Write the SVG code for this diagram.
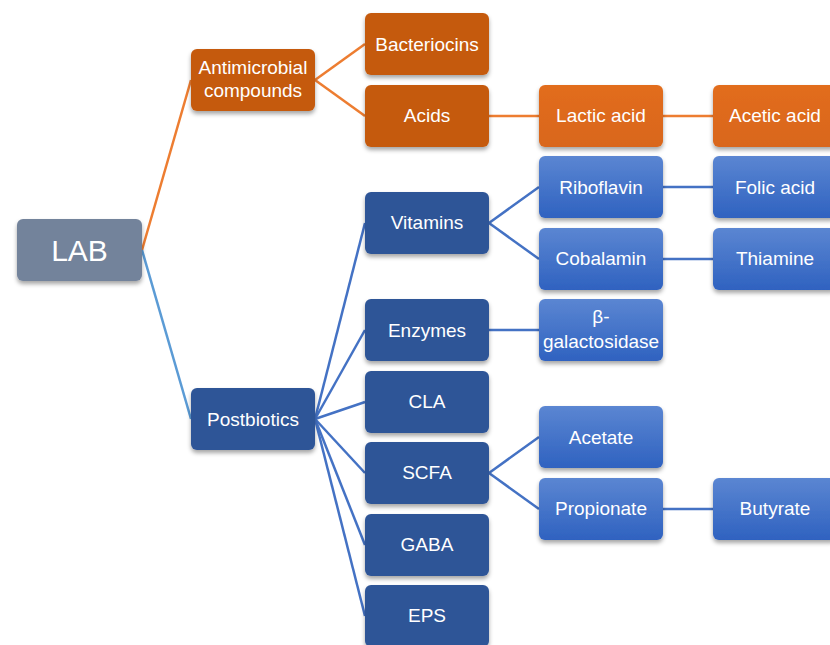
<svg xmlns="http://www.w3.org/2000/svg" width="830" height="645" viewBox="0 0 830 645">
<defs>
<filter id="sh" x="-20%" y="-20%" width="140%" height="150%">
<feDropShadow dx="0" dy="3" stdDeviation="2.2" flood-color="#000" flood-opacity="0.35"/>
</filter>
<linearGradient id="gBlue" x1="0" y1="0" x2="0" y2="1">
<stop offset="0" stop-color="#5b86d2"/>
<stop offset="1" stop-color="#2f62c0"/>
</linearGradient>
<linearGradient id="gOr" x1="0" y1="0" x2="0" y2="1">
<stop offset="0" stop-color="#e26d1c"/>
<stop offset="1" stop-color="#d9661a"/>
</linearGradient>
<style>
.n rect{filter:url(#sh)}
.root rect{fill:#73839b}
.o1 rect{fill:#c55a11}
.o2 rect{fill:url(#gOr)}
.b1 rect{fill:#2f5597}
.b2 rect{fill:url(#gBlue)}
text{font-family:"Liberation Sans",Arial,sans-serif;fill:#fff;text-anchor:middle;font-size:19px}
.root text{font-size:30px}
#edges line{stroke-width:2.5;fill:none}
.eo{stroke:#ed7d31}
.eb{stroke:#4472c4}
.el{stroke:#5b9bd5}
</style>
</defs>
<rect width="830" height="645" fill="#fff"/>
<g id="edges">
<line class="eo" x1="142" y1="250" x2="191" y2="80"/>
<line class="el" x1="142" y1="250" x2="191" y2="419"/>
<line class="eo" x1="315" y1="80" x2="365" y2="44"/>
<line class="eo" x1="315" y1="80" x2="365" y2="116"/>
<line class="eo" x1="489" y1="116" x2="539" y2="116"/>
<line class="eo" x1="663" y1="116" x2="713" y2="116"/>
<line class="eb" x1="315" y1="419" x2="365" y2="223"/>
<line class="eb" x1="315" y1="419" x2="365" y2="330"/>
<line class="eb" x1="315" y1="419" x2="365" y2="402"/>
<line class="eb" x1="315" y1="419" x2="365" y2="473"/>
<line class="eb" x1="315" y1="419" x2="365" y2="545"/>
<line class="eb" x1="315" y1="419" x2="365" y2="616"/>
<line class="eb" x1="489" y1="223" x2="539" y2="187"/>
<line class="eb" x1="489" y1="223" x2="539" y2="259"/>
<line class="eb" x1="663" y1="187" x2="713" y2="187"/>
<line class="eb" x1="663" y1="259" x2="713" y2="259"/>
<line class="eb" x1="489" y1="330" x2="539" y2="330"/>
<line class="eb" x1="489" y1="473" x2="539" y2="437"/>
<line class="eb" x1="489" y1="473" x2="539" y2="509"/>
<line class="eb" x1="663" y1="509" x2="713" y2="509"/>
</g>
<g id="lab" class="n root"><rect x="17" y="219" width="125" height="62" rx="6"/><text x="79.5" y="261">LAB</text></g>
<g id="antimicrobial" class="n o1"><rect x="191" y="49" width="124" height="62" rx="6"/><text x="253" y="74">Antimicrobial</text><text x="253" y="97">compounds</text></g>
<g id="bacteriocins" class="n o1"><rect x="365" y="13" width="124" height="62" rx="6"/><text x="427" y="51">Bacteriocins</text></g>
<g id="acids" class="n o1"><rect x="365" y="85" width="124" height="62" rx="6"/><text x="427" y="122">Acids</text></g>
<g id="lactic" class="n o2"><rect x="539" y="85" width="124" height="62" rx="6"/><text x="601" y="122">Lactic acid</text></g>
<g id="acetic" class="n o2"><rect x="713" y="85" width="124" height="62" rx="6"/><text x="775" y="122">Acetic acid</text></g>
<g id="postbiotics" class="n b1"><rect x="191" y="388" width="124" height="62" rx="6"/><text x="253" y="426">Postbiotics</text></g>
<g id="vitamins" class="n b1"><rect x="365" y="192" width="124" height="62" rx="6"/><text x="427" y="229">Vitamins</text></g>
<g id="enzymes" class="n b1"><rect x="365" y="299" width="124" height="62" rx="6"/><text x="427" y="337">Enzymes</text></g>
<g id="cla" class="n b1"><rect x="365" y="371" width="124" height="62" rx="6"/><text x="427" y="408">CLA</text></g>
<g id="scfa" class="n b1"><rect x="365" y="442" width="124" height="62" rx="6"/><text x="427" y="479">SCFA</text></g>
<g id="gaba" class="n b1"><rect x="365" y="514" width="124" height="62" rx="6"/><text x="427" y="551">GABA</text></g>
<g id="eps" class="n b1"><rect x="365" y="585" width="124" height="62" rx="6"/><text x="427" y="622">EPS</text></g>
<g id="riboflavin" class="n b2"><rect x="539" y="156" width="124" height="62" rx="6"/><text x="601" y="194">Riboflavin</text></g>
<g id="cobalamin" class="n b2"><rect x="539" y="228" width="124" height="62" rx="6"/><text x="601" y="265">Cobalamin</text></g>
<g id="folic" class="n b2"><rect x="713" y="156" width="124" height="62" rx="6"/><text x="775" y="194">Folic acid</text></g>
<g id="thiamine" class="n b2"><rect x="713" y="228" width="124" height="62" rx="6"/><text x="775" y="265">Thiamine</text></g>
<g id="galactosidase" class="n b2"><rect x="539" y="299" width="124" height="62" rx="6"/><text x="601" y="323">β-</text><text x="601" y="348">galactosidase</text></g>
<g id="acetate" class="n b2"><rect x="539" y="406" width="124" height="62" rx="6"/><text x="601" y="444">Acetate</text></g>
<g id="propionate" class="n b2"><rect x="539" y="478" width="124" height="62" rx="6"/><text x="601" y="515">Propionate</text></g>
<g id="butyrate" class="n b2"><rect x="713" y="478" width="124" height="62" rx="6"/><text x="775" y="515">Butyrate</text></g>
</svg>
